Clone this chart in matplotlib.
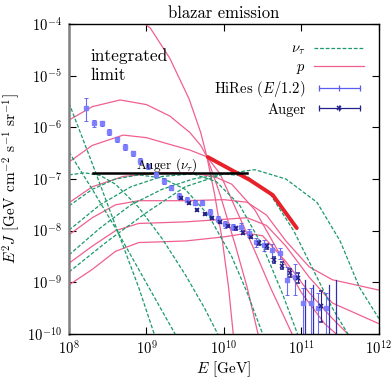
import numpy as np
import matplotlib.pyplot as plt
from matplotlib.lines import Line2D
from matplotlib.legend_handler import HandlerLine2D, HandlerTuple

plt.rcParams['font.family'] = 'cmr10'
plt.rcParams['mathtext.fontset'] = 'cm'
plt.rcParams['axes.formatter.use_mathtext'] = True

# curves as (log10 E [GeV], log10 E^2 J)
p_curves = [
    [(8.98, -4.0), (9.05, -4.08), (9.30, -4.66), (9.55, -5.45), (9.70, -6.10), (9.78, -6.57),
     (9.88, -7.3), (9.98, -8.2), (10.06, -9.1), (10.12, -10.0)],
    [(8.0, -5.86), (8.3, -5.60), (8.66, -5.47), (9.0, -5.56), (9.3, -5.78), (9.56, -6.10),
     (9.70, -6.35), (9.78, -6.57), (9.95, -7.3), (10.15, -8.3), (10.30, -9.1), (10.44, -10.0)],
    [(8.0, -6.67), (8.3, -6.35), (8.7, -6.15), (9.0, -6.20), (9.3, -6.33), (9.56, -6.44),
     (9.78, -6.57), (9.95, -6.90), (10.10, -7.40), (10.40, -8.40), (10.60, -9.10), (10.88, -10.0)],
    [(8.0, -7.46), (8.3, -7.15), (8.7, -6.95), (9.2, -6.88), (9.6, -6.88), (9.9, -6.97),
     (10.1, -7.10), (10.4, -7.60), (10.7, -8.40), (11.0, -9.20), (11.3, -9.80), (11.45, -10.0)],
    [(8.0, -8.08), (8.3, -7.75), (8.6, -7.50), (8.9, -7.42), (9.5, -7.42), (10.0, -7.40),
     (10.3, -7.45), (10.55, -7.70), (10.8, -8.20), (11.1, -8.70), (11.4, -8.95), (12.0, -9.15)],
    [(8.0, -8.63), (8.3, -8.30), (8.6, -8.00), (8.9, -7.86), (9.5, -7.83), (10.0, -7.78),
     (10.3, -7.75), (10.55, -7.90), (10.8, -8.30), (11.1, -8.90), (11.4, -9.40), (12.0, -9.80)],
    [(8.0, -9.05), (8.3, -8.75), (8.6, -8.40), (8.9, -8.23), (9.5, -8.20), (10.0, -8.12),
     (10.3, -8.05), (10.5, -8.10), (10.8, -8.60), (11.1, -9.20), (11.4, -9.70), (11.6, -10.0)],
]

nu_curves = [
    [(8.0, -5.53), (8.3, -6.70), (8.6, -7.90), (8.9, -9.10), (9.1, -10.0)],
    [(8.0, -6.48), (8.3, -7.20), (8.6, -7.95), (8.9, -8.75), (9.2, -9.55), (9.37, -10.0)],
    [(8.0, -6.92), (8.2, -6.88), (8.4, -6.93), (8.6, -7.10), (8.9, -7.55), (9.2, -8.15),
     (9.5, -8.85), (9.75, -9.50), (9.92, -10.0)],
    [(8.0, -7.52), (8.3, -7.20), (8.6, -7.00), (8.9, -6.92), (9.2, -6.98), (9.5, -7.20),
     (9.8, -7.70), (10.1, -8.50), (10.3, -9.20), (10.5, -10.0)],
    [(8.0, -7.99), (8.4, -7.50), (8.8, -7.15), (9.2, -6.95), (9.6, -6.90), (9.9, -7.05),
     (10.2, -7.50), (10.5, -8.30), (10.75, -9.20), (10.95, -10.0)],
    [(8.0, -8.47), (8.4, -7.95), (8.8, -7.50), (9.2, -7.20), (9.6, -7.00), (10.0, -6.90),
     (10.3, -6.95), (10.6, -7.30), (10.9, -8.00), (11.2, -8.90), (11.4, -9.50), (11.6, -10.0)],
    [(8.0, -8.80), (8.5, -8.20), (9.0, -7.65), (9.5, -7.15), (10.0, -6.90), (10.4, -6.82),
     (10.8, -7.00), (11.2, -7.45), (11.5, -8.20), (11.75, -9.10), (12.0, -9.70)],
]

bound_lgE = [9.79, 10.335, 10.63, 10.94]
bound_lgF = [-6.574, -7.02, -7.31, -7.95]

auger_nu_lgE = [8.31, 10.30]
auger_nu_lgF = [-6.88, -6.88]

hires_lgE = [8.22, 8.32, 8.43, 8.52, 8.62, 8.72, 8.82, 8.92, 9.02, 9.12, 9.22, 9.32,
             9.42, 9.52, 9.62, 9.72, 9.82, 9.92, 10.02, 10.12, 10.22, 10.32, 10.42,
             10.52, 10.62, 10.72, 10.82, 10.92, 11.02, 11.12, 11.22, 11.32]
hires_lgF = [-5.63, -5.92, -5.92, -6.09, -6.23, -6.38, -6.50, -6.65, -6.75, -6.92, -7.04, -7.17,
             -7.33, -7.40, -7.46, -7.46, -7.64, -7.78, -7.88, -7.93, -7.93, -8.04, -8.22,
             -8.28, -8.37, -8.43, -8.95, -8.90, -9.40, -9.40, -9.50, -9.50]
hires_lo = [0.25, 0.08, 0.06, 0.05, 0.05, 0.05, 0.05, 0.05, 0.05, 0.05, 0.05, 0.05,
            0.05, 0.05, 0.05, 0.05, 0.06, 0.06, 0.06, 0.06, 0.07, 0.08, 0.10,
            0.12, 0.15, 0.12, 0.30, 0.35, 0.60, 0.60, 0.60, 0.60]
hires_hi = [0.20, 0.06, 0.05, 0.05, 0.05, 0.05, 0.05, 0.05, 0.05, 0.05, 0.05, 0.05,
            0.05, 0.05, 0.05, 0.05, 0.06, 0.06, 0.06, 0.06, 0.07, 0.08, 0.08,
            0.10, 0.12, 0.10, 0.25, 0.25, 0.30, 0.30, 0.30, 0.30]

auger_lgE = [9.45, 9.55, 9.65, 9.75, 9.85, 9.95, 10.05, 10.15, 10.25, 10.35, 10.45,
             10.55, 10.65, 10.75, 10.85, 10.95, 11.25]
auger_lgF = [-7.37, -7.46, -7.60, -7.68, -7.75, -7.83, -7.91, -7.95, -8.04, -8.12, -8.24,
             -8.30, -8.57, -8.68, -8.82, -8.92, -9.46]
auger_err = [0.02, 0.02, 0.02, 0.02, 0.02, 0.02, 0.02, 0.03, 0.03, 0.03, 0.04,
             0.05, 0.06, 0.07, 0.08, 0.10, 0.30]
auger_ul_lgE = [11.05, 11.15, 11.35, 11.45]
auger_ul_top = [-8.95, -9.05, -9.05, -8.95]

pink = '#f0608f'
green = '#1a9a6a'
hires_c = '#5c5cf0'
auger_c = '#22228a'

fig = plt.figure(figsize=(3.91, 3.78), dpi=100)
ax = fig.add_axes([0.1765, 0.1164, 0.7925, 0.8201])

for c in p_curves:
    c = np.array(c)
    ax.plot(10**c[:, 0], 10**c[:, 1], color=pink, lw=0.9)
for c in nu_curves:
    c = np.array(c)
    ax.plot(10**c[:, 0], 10**c[:, 1], color=green, lw=0.9, ls=(0, (3, 1.5)))

ax.plot(10**np.array(bound_lgE), 10**np.array(bound_lgF), color='#e8202a', lw=2.8,
        solid_capstyle='round')
ax.plot(10**np.array(auger_nu_lgE), 10**np.array(auger_nu_lgF), color='k', lw=1.8)
ax.text(10**8.87, 10**-6.80, r'Auger $(\nu_\tau)$', fontsize=9.5)

hE = 10**np.array(hires_lgE)
hF = 10**np.array(hires_lgF)
hlo = hF - 10**(np.array(hires_lgF) - np.array(hires_lo))
hhi = 10**(np.array(hires_lgF) + np.array(hires_hi)) - hF
ax.errorbar(hE, hF, yerr=[hlo, hhi], fmt='s', ms=2.5, color=hires_c, mec='#7a7aff',
            mfc='#7a7aff', elinewidth=0.8, capsize=1.5, capthick=0.7, alpha=0.9)

aE = 10**np.array(auger_lgE)
aF = 10**np.array(auger_lgF)
aerr = np.array(auger_err)
alo = aF - 10**(np.array(auger_lgF) - aerr)
ahi = 10**(np.array(auger_lgF) + aerr) - aF
ax.errorbar(aE, aF, yerr=[alo, ahi], fmt='x', ms=3.0, mew=1.1, color=auger_c,
            elinewidth=0.8, capsize=1.5, capthick=0.7)
for e, t in zip(auger_ul_lgE, auger_ul_top):
    ax.plot([10**e, 10**e], [10**t, 1e-10], color='#3030b0', lw=0.9)

ax.text(10**8.28, 10**-4.80, 'integrated\nlimit', fontsize=12.5, linespacing=1.3,
        va='center')

ax.set_xscale('log')
ax.set_yscale('log')
ax.set_xlim(1e8, 1e12)
ax.set_ylim(1e-10, 1e-4)
ax.set_xticks([1e8, 1e9, 1e10, 1e11, 1e12])
ax.set_yticks([1e-10, 1e-9, 1e-8, 1e-7, 1e-6, 1e-5, 1e-4])
ax.minorticks_off()
ax.tick_params(direction='in', length=5, top=True, right=True, labelsize=10.5, pad=5)
ax.tick_params(axis='x', pad=4)
for s in ax.spines.values():
    s.set_linewidth(1.0)
ax.spines['left'].set_color('#808080')
ax.spines['left'].set_linewidth(1.8)

ax.set_xlabel('$E$ [GeV]', fontsize=11, labelpad=1)
ax.set_ylabel(r'$E^2 J$ [GeV cm$^{-2}$ s$^{-1}$ sr$^{-1}$]', fontsize=11, labelpad=4)
ax.set_title('blazar emission', fontsize=12, pad=4)

# legend proxies: horizontal error bars as drawn in the reference key
h_nu = Line2D([], [], color=green, lw=0.9, ls=(0, (3, 1.5)))
h_p = Line2D([], [], color=pink, lw=0.9)
h_hires = Line2D([], [], color=hires_c, lw=0.9, marker='|', ms=5, mew=0.9)
h_aug_bar = Line2D([], [], color=auger_c, lw=0.9, marker='|', ms=5, mew=0.9)
h_aug_x = Line2D([], [], color=auger_c, ls='none', marker='x', ms=3.5, mew=1.1)
ax.legend([h_nu, h_p, h_hires, (h_aug_bar, h_aug_x)],
          [r'$\nu_\tau$', '$p$', 'HiRes $(E/1.2)$', 'Auger'],
          handler_map={h_hires: HandlerLine2D(numpoints=3),
                       h_aug_bar: HandlerLine2D(numpoints=3),
                       h_aug_x: HandlerLine2D(numpoints=1),
                       tuple: HandlerTuple(ndivide=1, pad=0)},
          loc='upper right', frameon=False, markerfirst=False, fontsize=10.5,
          handlelength=3.4, handletextpad=0.6, bbox_to_anchor=(0.985, 0.975),
          labelspacing=0.22, borderaxespad=0.3)

fig.savefig('out.png', dpi=100)
